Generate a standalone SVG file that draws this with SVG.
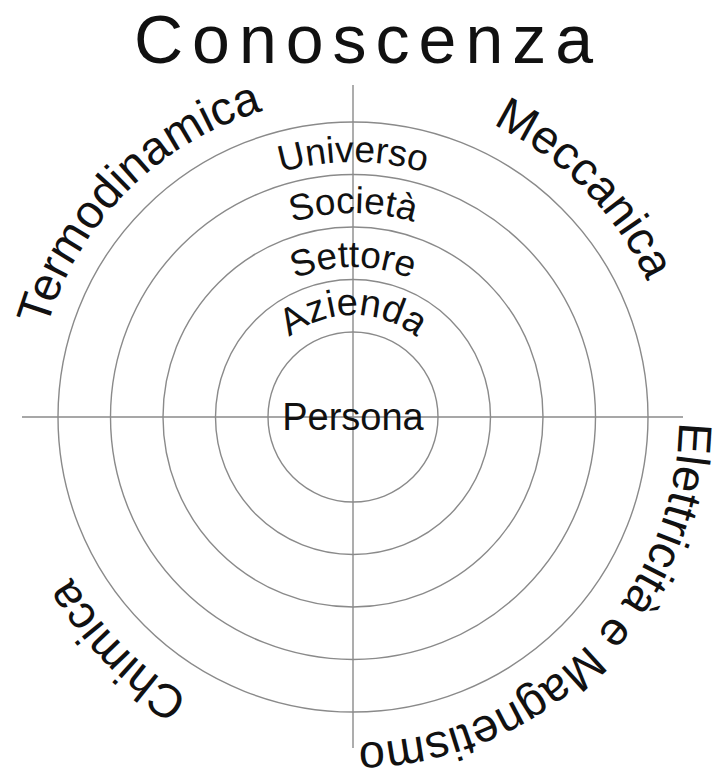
<svg xmlns="http://www.w3.org/2000/svg" xmlns:xlink="http://www.w3.org/1999/xlink" width="720" height="769" viewBox="0 0 720 769">
<style>
.ring{fill:none;stroke:#8a8a8a;stroke-width:1.4}
.axis{stroke:#8a8a8a;stroke-width:1.4}
text{font-family:"Liberation Sans",Arial,Helvetica,sans-serif;fill:#111}
.inner{font-size:37px}
.outer{font-size:47px}
</style>
<defs>
<path id="pU" d="M353,672 A255,255 0 1,1 353,162 A255,255 0 1,1 353,672"/>
<path id="pS" d="M353,621 A204,204 0 1,1 353,213 A204,204 0 1,1 353,621"/>
<path id="pT" d="M353,567 A150,150 0 1,1 353,267 A150,150 0 1,1 353,567"/>
<path id="pA" d="M353,519 A102,102 0 1,1 353,315 A102,102 0 1,1 353,519"/>
<path id="pO1" d="M353,736 A319,319 0 1,1 353,98 A319,319 0 1,1 353,736"/>
<path id="pO2" d="M353,741 A324,324 0 1,1 353,93 A324,324 0 1,1 353,741"/>
<path id="pO3" d="M353,743 A326,326 0 1,1 353,91 A326,326 0 1,1 353,743"/>
</defs>
<rect width="720" height="769" fill="#fff"/>
<g id="title"><text x="134" y="63" style="font-size:68px;letter-spacing:9px">Conoscenza</text></g>
<g id="connectors">
<line class="axis" x1="353" y1="85" x2="353" y2="748"/>
<line class="axis" x1="22" y1="417" x2="683" y2="417"/>
</g>
<g id="persona"><circle class="ring" cx="353" cy="417" r="85"/><text class="inner" x="353" y="430" text-anchor="middle" style="font-size:38px">Persona</text></g>
<g id="azienda"><circle class="ring" cx="353" cy="417" r="137.5"/><text class="inner" style="font-size:38px"><textPath xlink:href="#pA" href="#pA" startOffset="50%" text-anchor="middle">Azienda</textPath></text></g>
<g id="settore"><circle class="ring" cx="353" cy="417" r="190"/><text class="inner"><textPath xlink:href="#pT" href="#pT" startOffset="50%" text-anchor="middle">Settore</textPath></text></g>
<g id="societa"><circle class="ring" cx="353" cy="417" r="242.5"/><text class="inner"><textPath xlink:href="#pS" href="#pS" startOffset="50%" text-anchor="middle">Società</textPath></text></g>
<g id="universo"><circle class="ring" cx="353" cy="417" r="295"/><text class="inner"><textPath xlink:href="#pU" href="#pU" startOffset="50%" text-anchor="middle">Universo</textPath></text></g>
<g id="termodinamica"><text class="outer"><textPath xlink:href="#pO1" href="#pO1" startOffset="37.5%" text-anchor="middle">Termodinamica</textPath></text></g>
<g id="meccanica"><text class="outer"><textPath xlink:href="#pO2" href="#pO2" startOffset="62.6%" text-anchor="middle">Meccanica</textPath></text></g>
<g id="elettricita"><text class="outer"><textPath xlink:href="#pO3" href="#pO3" startOffset="87.5%" text-anchor="middle">Elettricità e Magnetismo</textPath></text></g>
<g id="chimica"><text class="outer"><textPath xlink:href="#pO2" href="#pO2" startOffset="12.6%" text-anchor="middle">Chimica</textPath></text></g>
</svg>
